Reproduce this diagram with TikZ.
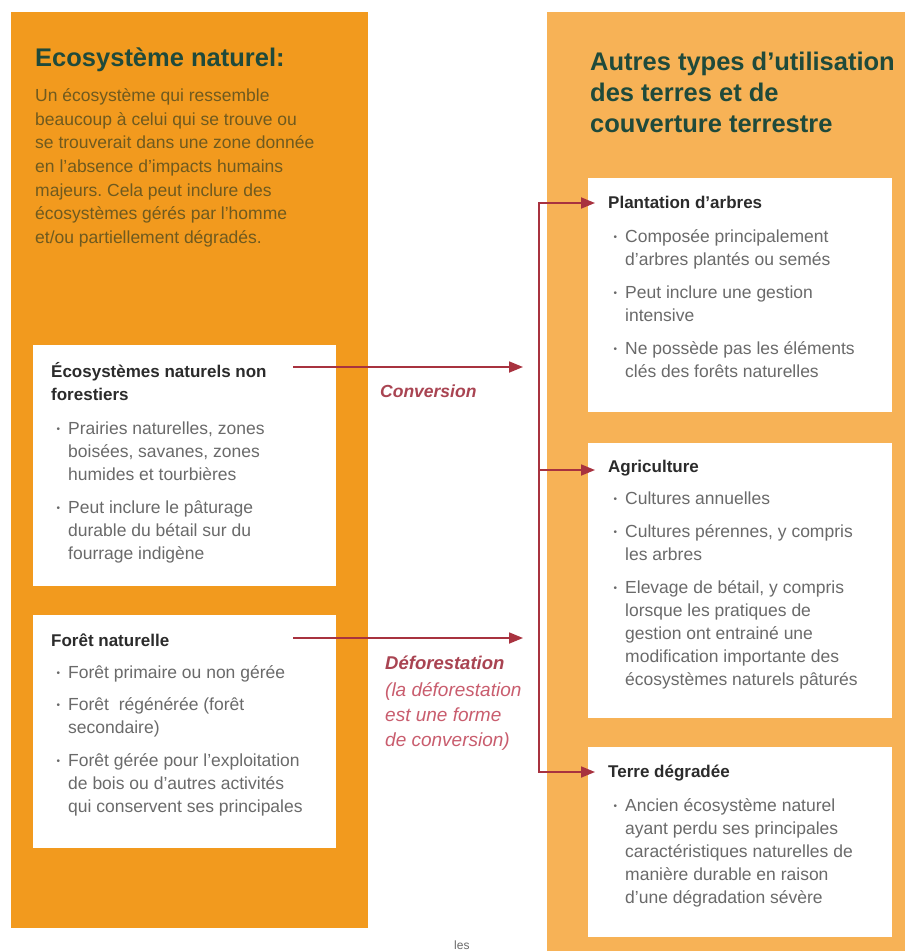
\documentclass[tikz,border=0pt]{standalone}
\usepackage{fontspec}
\setmainfont{Liberation Sans}
\usetikzlibrary{arrows.meta}
\frenchspacing

\definecolor{panelA}{HTML}{F29A1E}
\definecolor{panelB}{HTML}{F7B256}
\definecolor{titlegreen}{HTML}{1F4A3B}
\definecolor{bodyolive}{HTML}{6F5A1F}
\definecolor{headgray}{HTML}{2B2B2B}
\definecolor{bulletgray}{HTML}{6A6A6A}
\definecolor{arrowred}{HTML}{A8323F}
\definecolor{labelred}{HTML}{A94452}
\definecolor{labelpink}{HTML}{C95D6E}

% stacked lines whose baseline is the first line
\newcommand{\stack}[1]{\begin{tabular}[t]{@{}l@{}}#1\end{tabular}}
% list helpers: heading line, bullet, hanging indent
\newcommand{\hd}[1]{{\color{headgray}\fontsize{17}{23}\selectfont\bfseries #1}}
\newcommand{\bul}{\makebox[17pt][l]{\hspace{5.5pt}\raisebox{1.2pt}{\fontsize{10}{10}\selectfont •}}}
\newcommand{\ind}{\hspace*{17pt}}

\begin{document}
\begin{tikzpicture}[x=1pt,y=-1pt,
  panelleft/.style={fill=panelA},
  panelright/.style={fill=panelB},
  card/.style={fill=white, draw=none, inner sep=0pt, anchor=north west},
  txt/.style={anchor=base west, inner sep=0pt},
  bigtitle/.style={txt, text=titlegreen, font=\fontsize{25.5}{31}\selectfont\bfseries},
  cardtext/.style={txt, text=bulletgray, font=\fontsize{17.5}{23}\selectfont},
  link/.style={draw=arrowred, line width=1.8pt},
  flow/.style={link, -{Triangle[length=14pt,width=11pt]}}
]
\useasboundingbox (0,0) rectangle (905,951);
\fill[white] (0,0) rectangle (905,951);

% two background panels
\fill[panelleft] (11,12) rectangle (368,928);
\fill[panelright] (547,12) rectangle (905,951);

% white cards
\node[card, minimum width=303pt, minimum height=241pt] (nonforest) at (33,345) {};
\node[card, minimum width=303pt, minimum height=233pt] (forest) at (33,615) {};
\node[card, minimum width=304pt, minimum height=234pt] (plant) at (588,178) {};
\node[card, minimum width=304pt, minimum height=275pt] (agri) at (588,443) {};
\node[card, minimum width=304pt, minimum height=190pt] (degr) at (588,747) {};

% panel titles and intro
\node[bigtitle] (titleL) at (35,66) {Ecosystème naturel:};
\node[txt, text=bodyolive, font=\fontsize{17.5}{23.6}\selectfont] (introL) at (35,101.7) {\stack{%
Un écosystème qui ressemble\\
beaucoup à celui qui se trouve ou\\
se trouverait dans une zone donnée\\
en l'absence d'impacts humains\\
majeurs. Cela peut inclure des\\
écosystèmes gérés par l'homme\\
et/ou partiellement dégradés.}};
\node[bigtitle] (titleR) at (590,70) {\stack{Autres types d'utilisation\\des terres et de\\couverture terrestre}};

% card contents
\node[cardtext] (tNonforest) at (51,377) {\stack{%
\hd{Écosystèmes naturels non}\\
\hd{forestiers}\\[11pt]
\bul Prairies naturelles, zones\\
\ind boisées, savanes, zones\\
\ind humides et tourbières\\[10pt]
\bul Peut inclure le pâturage\\
\ind durable du bétail sur du\\
\ind fourrage indigène}};

\node[cardtext] (tForest) at (51,646) {\stack{%
\hd{Forêt naturelle}\\[9pt]
\bul Forêt primaire ou non gérée\\[9pt]
\bul Forêt\ \ régénérée (forêt\\
\ind secondaire)\\[10pt]
\bul Forêt gérée pour l'exploitation\\
\ind de bois ou d'autres activités\\
\ind qui conservent ses principales}};

\node[cardtext] (tPlant) at (608,208) {\stack{%
\hd{Plantation d'arbres}\\[11pt]
\bul Composée principalement\\
\ind d'arbres plantés ou semés\\[10pt]
\bul Peut inclure une gestion\\
\ind intensive\\[10pt]
\bul Ne possède pas les éléments\\
\ind clés des forêts naturelles}};

\node[cardtext] (tAgri) at (608,472) {\stack{%
\hd{Agriculture}\\[9pt]
\bul Cultures annuelles\\[10pt]
\bul Cultures pérennes, y compris\\
\ind les arbres\\[10pt]
\bul Elevage de bétail, y compris\\
\ind lorsque les pratiques de\\
\ind gestion ont entrainé une\\
\ind modification importante des\\
\ind écosystèmes naturels pâturés}};

\node[cardtext] (tDegr) at (608,777) {\stack{%
\hd{Terre dégradée}\\[11pt]
\bul Ancien écosystème naturel\\
\ind ayant perdu ses principales\\
\ind caractéristiques naturelles de\\
\ind manière durable en raison\\
\ind d'une dégradation sévère}};

% connector end points
\coordinate (convStart) at (293,367);
\coordinate (convEnd) at (523,367);
\coordinate (defStart) at (293,638);
\coordinate (defEnd) at (523,638);
\coordinate (trunkTop) at (539,203);
\coordinate (trunkMid) at (539,470);
\coordinate (trunkBot) at (539,772);
\coordinate (inPlant) at (595,203);
\coordinate (inAgri) at (595,470);
\coordinate (inDegr) at (595,772);

\draw[flow] (convStart) -- (convEnd);
\draw[flow] (defStart) -- (defEnd);
\draw[flow] (trunkMid) -- (trunkTop) -- (inPlant);
\draw[flow] (trunkMid) -- (trunkBot) -- (inDegr);
\draw[flow] (trunkMid) -- (inAgri);

% connector labels
\node[txt, text=labelred, font=\fontsize{17.5}{23}\selectfont\bfseries\itshape] (lblConv) at (380,397) {Conversion};
\node[txt, text=labelpink, font=\fontsize{19}{25}\selectfont\itshape] (lblDef) at (385,669) {\stack{%
{\color{labelred}\fontsize{18.5}{25}\selectfont\bfseries Déforestation}\\[2pt]
(la déforestation\\
est une forme\\
de conversion)}};

\node[txt, text=bulletgray, font=\fontsize{12}{14}\selectfont] (stray) at (454,949) {les};
\end{tikzpicture}
\end{document}
